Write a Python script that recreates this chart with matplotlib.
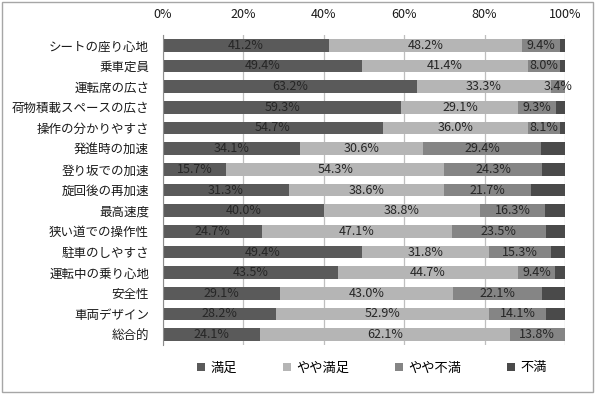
import matplotlib
matplotlib.use("Agg")
import numpy as np
from matplotlib import pyplot as plt
from matplotlib.patches import Rectangle

plt.rcParams['font.family'] = ['Noto Sans CJK JP', 'DejaVu Sans']

categories = ['シートの座り心地', '乗車定員', '運転席の広さ', '荷物積載スペースの広さ',
              '操作の分かりやすさ', '発進時の加速', '登り坂での加速', '旋回後の再加速',
              '最高速度', '狭い道での操作性', '駐車のしやすさ', '運転中の乗り心地',
              '安全性', '車両デザイン', '総合的']
manzoku      = [41.2, 49.4, 63.2, 59.3, 54.7, 34.1, 15.7, 31.3, 40.0, 24.7, 49.4, 43.5, 29.1, 28.2, 24.1]
yaya_manzoku = [48.2, 41.4, 33.3, 29.1, 36.0, 30.6, 54.3, 38.6, 38.8, 47.1, 31.8, 44.7, 43.0, 52.9, 62.1]
yaya_fuman   = [9.4, 8.0, 3.4, 9.3, 8.1, 29.4, 24.3, 21.7, 16.3, 23.5, 15.3, 9.4, 22.1, 14.1, 13.8]
fuman        = [1.2, 1.2, 0.1, 2.3, 1.2, 5.9, 5.7, 8.4, 4.9, 4.7, 3.5, 2.4, 5.8, 4.8, 0.0]
series_names = ['満足', 'やや満足', 'やや不満', '不満']
xticks = [0, 20, 40, 60, 80, 100]

colors = ['#5a5a5a', '#b5b5b5', '#858585', '#4a4a4a']
series = [manzoku, yaya_manzoku, yaya_fuman, fuman]

fig = plt.figure(figsize=(5.97, 4.04), dpi=100)
fig.patches.append(Rectangle((2/597, 1 - 392/404), 591/597, 390/404,
                             transform=fig.transFigure, fill=False,
                             edgecolor='#a6a6a6', linewidth=1))
ax = fig.add_axes([163/597, 1 - 345/404, 402/597, 310/404])

y = np.arange(len(categories))
left = np.zeros(len(categories))
for i, (vals, name, c) in enumerate(zip(series, series_names, colors)):
    vals = np.array(vals)
    bars = ax.barh(y, vals, left=left, height=0.6, color=c, label=name, zorder=2)
    if i < 3:
        labels = [f'{v:.1f}%' for v in vals]
        ax.bar_label(bars, labels=labels, label_type='center', fontsize=9, color='#262626')
    left += vals

ax.set_xlim(0, 100)
ax.set_ylim(len(categories) - 0.5, -0.5)
ax.set_yticks(y)
ax.set_yticklabels(categories, fontsize=9, color='#1a1a1a')
ax.set_xticks(xticks)
ax.set_xticklabels([f'{t}%' for t in xticks], fontsize=9, color='#1a1a1a')
ax.xaxis.tick_top()
ax.tick_params(axis='x', length=0, pad=10)
ax.tick_params(axis='y', length=0, pad=10)
ax.grid(axis='x', color='#bfbfbf', linewidth=0.9, zorder=0)
for s in ['top', 'right', 'bottom']:
    ax.spines[s].set_visible(False)
ax.spines['left'].set_color('#8c8c8c')

fig.legend(loc='center', bbox_to_anchor=(372/597, 1 - 368/404), ncol=4,
           frameon=False, fontsize=9.5, handlelength=0.6, handleheight=0.6,
           columnspacing=3.5, handletextpad=0.4)

fig.savefig('out.png', dpi=100)
